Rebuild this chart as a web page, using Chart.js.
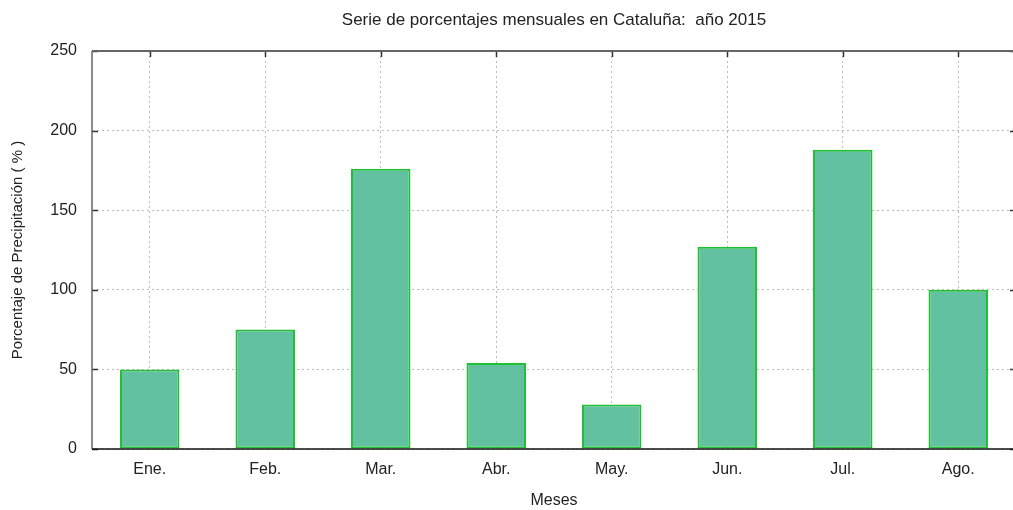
<!DOCTYPE html>
<html><head><meta charset="utf-8">
<script src="https://cdn.jsdelivr.net/npm/chart.js@4"></script>
<style>html,body{margin:0;padding:0;overflow:hidden;background:#fff}#wrap{width:1017px;height:510px}</style>
</head><body><div id="wrap"><canvas id="c" width="1017" height="510"></canvas></div>
<script>
const categories = ['Ene.','Feb.','Mar.','Abr.','May.','Jun.','Jul.','Ago.'];
const porcentajes = [50, 75, 176, 54, 28, 127, 188, 100];
const yMin = 0, yMax = 250, yStep = 50;
const titleText = 'Serie de porcentajes mensuales en Cataluña:  año 2015';
const yTitle = 'Porcentaje de Precipitación ( % )';
const xTitle = 'Meses';

const FONT = '"Liberation Sans", Arial, sans-serif';
const TXT = '#222';

const framePlugin = {
  id: 'frame',
  afterDatasetsDraw(chart) {
    const {ctx, chartArea: a, scales: {x, y}} = chart;
    ctx.save();
    const line = (x1, y1, x2, y2) => { ctx.beginPath(); ctx.moveTo(x1, y1); ctx.lineTo(x2, y2); ctx.stroke(); };
    ctx.strokeStyle = '#333'; ctx.lineWidth = 1.5;
    y.ticks.forEach((t, i) => {
      const py = Math.round(y.getPixelForTick(i)) + 0.5;
      line(a.left, py, a.left + 6, py);
      line(a.right - 6, py, a.right, py);
    });
    x.ticks.forEach((t, i) => {
      const px = Math.round(x.getPixelForTick(i)) + 0.5;
      line(px, a.top, px, a.top + 6);
    });
    ctx.strokeStyle = '#666'; ctx.lineWidth = 2;
    line(a.left, a.top, a.right, a.top);
    ctx.lineWidth = 1.5;
    line(a.left, a.top, a.left, a.bottom);
    line(a.right, a.top, a.right, a.bottom);
    ctx.strokeStyle = '#111'; ctx.lineWidth = 1.5;
    line(a.left, a.bottom, a.right, a.bottom);
    ctx.restore();
  }
};

new Chart(document.getElementById('c'), {
  type: 'bar',
  data: {
    labels: categories,
    datasets: [{
      data: porcentajes,
      backgroundColor: '#61c1a0',
      borderColor: '#22bf33',
      borderWidth: 2,
      borderSkipped: false,
      barPercentage: 0.515,
      categoryPercentage: 1.0
    }]
  },
  options: {
    responsive: false,
    animation: false,
    layout: { padding: { left: 0, right: 1, top: 0, bottom: 0 } },
    plugins: {
      legend: { display: false },
      tooltip: { enabled: false },
      title: {
        display: true,
        text: titleText,
        fullSize: false,
        color: TXT,
        font: { family: FONT, size: 17, weight: 'normal' },
        padding: { top: 9.8, bottom: 20.8 }
      }
    },
    scales: {
      x: {
        afterFit(s) { s.height = 61; },
        grid: { offset: false, drawTicks: false, color: '#bbbbbb', lineWidth: 1 },
        border: { display: false, dash: [2, 3] },
        ticks: { color: TXT, font: { family: FONT, size: 16 }, padding: 11, maxRotation: 0 },
        title: { display: true, text: xTitle, color: TXT, font: { family: FONT, size: 16 }, padding: { top: 0, bottom: 0 } }
      },
      y: {
        min: yMin, max: yMax,
        afterFit(s) { s.width = 92; },
        grid: { drawTicks: false, color: '#bbbbbb', lineWidth: 1 },
        border: { display: false, dash: [2, 3] },
        ticks: { stepSize: yStep, color: TXT, font: { family: FONT, size: 16 }, padding: 15 },
        title: { display: true, text: yTitle, color: TXT, font: { family: FONT, size: 15 }, padding: { top: 9, bottom: 0 } }
      }
    }
  },
  plugins: [framePlugin]
});
</script></body></html>
